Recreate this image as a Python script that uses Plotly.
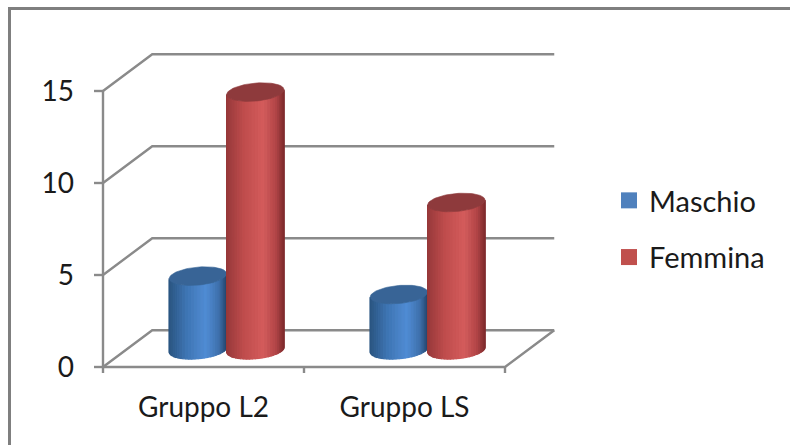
import numpy as np
import plotly.graph_objects as go

# ---- data ----
categories = ["Gruppo L2", "Gruppo LS"]
series_names = ["Maschio", "Femmina"]
maschio = [4, 3]
femmina = [14, 8]
y_ticks = [0, 5, 10, 15]

# ---- geometry of the pseudo-3D box (data units) ----
DX, DY = 0.245, 2.0          # depth offset of the back wall
DEPTH_F = 0.47               # cylinders sit mid-depth
BAR_W = 1 / 3.5              # gap width 150%
ELL_B = 0.49                 # vertical half-axis of the cylinder ellipses
TILT = 0.13

GRID = "#8a8a8a"
FONT = dict(family="Lato, Open Sans, sans-serif", size=28, color="#1a1a1a")

# pixel layout of the plotting area
L, R, T, B = 93, 566, 46, 375
KX, KY = 201.0, 18.4          # px per data unit
PX0, PY0 = 103, 367           # pixel position of (0, 0)
x_range = [(L - PX0) / KX, (R - PX0) / KX]
y_range = [-(B - PY0) / KY, (PY0 - T) / KY]

fig = go.Figure()


def line(xs, ys, width=2.4, color=GRID):
    fig.add_trace(go.Scatter(x=xs, y=ys, mode="lines",
                             line=dict(color=color, width=width),
                             hoverinfo="skip", showlegend=False))


ncat = len(categories)
# back wall gridlines with their left diagonal
for v in y_ticks:
    line([0, DX, ncat + DX], [v, v + DY, v + DY])
# floor outline
line([0, ncat, ncat + DX], [0, 0, DY])
# front value axis and its ticks
line([0, 0], [0, y_ticks[-1]])
for v in y_ticks:
    line([-9 / KX, 0], [v, v])
# category axis ticks at category boundaries
for i in range(ncat + 1):
    line([i, i], [0, -6 / KY])


def mix(stops, u):
    us = [s[0] for s in stops]
    cols = np.array([s[1] for s in stops], dtype=float)
    c = [np.interp(u, us, cols[:, k]) for k in range(3)]
    return "rgb(%d,%d,%d)" % tuple(int(round(x)) for x in c)


BLUE = [(-1, (42, 84, 128)), (-0.4, (62, 116, 178)), (0.3, (80, 140, 212)),
        (0.75, (62, 112, 172)), (1, (38, 72, 112))]
RED = [(-1, (150, 56, 58)), (-0.4, (190, 76, 76)), (0.3, (212, 92, 92)),
       (0.75, (176, 68, 70)), (1, (128, 44, 46))]
TOPS = ["rgb(56,100,150)", "rgb(142,58,60)"]


def cylinder(cx, base, top, shade, top_col):
    a = BAR_W / 2
    n = 28
    ts = np.linspace(np.pi, 2 * np.pi, n + 1)
    for t1, t2 in zip(ts[:-1], ts[1:]):
        x1, x2 = cx + a * np.cos(t1), cx + a * np.cos(t2)
        o1 = ELL_B * np.sin(t1) + TILT * np.cos(t1)
        o2 = ELL_B * np.sin(t2) + TILT * np.cos(t2)
        col = mix(shade, np.cos((t1 + t2) / 2))
        fig.add_trace(go.Scatter(
            x=[x1, x2, x2, x1, x1],
            y=[base + o1, base + o2, top + o2, top + o1, base + o1],
            mode="lines", fill="toself", fillcolor=col,
            line=dict(color=col, width=1.3),
            hoverinfo="skip", showlegend=False))
    tt = np.linspace(0, 2 * np.pi, 80)
    fig.add_trace(go.Scatter(
        x=cx + a * np.cos(tt),
        y=top + ELL_B * np.sin(tt) + TILT * np.cos(tt),
        mode="lines", fill="toself", fillcolor=top_col,
        line=dict(color=top_col, width=0.6),
        hoverinfo="skip", showlegend=False))


values = [maschio, femmina]
shades = [BLUE, RED]
for ci in range(ncat):
    for si in range(len(series_names)):
        cx = ci + 0.5 + (si - 0.5) * BAR_W + DEPTH_F * DX
        base = DEPTH_F * DY
        cylinder(cx, base, values[si][ci] + base, shades[si], TOPS[si])

# legend entries
legend_cols = ["#4f81bd", "#c0504d"]
for si, name in enumerate(series_names):
    fig.add_trace(go.Scatter(x=[None], y=[None], mode="markers", name=name,
                             legendgroup=name,
                             marker=dict(symbol="square", size=16,
                                         color=legend_cols[si])))

W, H = R - L, B - T


def px(xp):
    return (xp - L) / W


def py(yp):
    return (B - yp) / H


fig.update_layout(
    width=790, height=445,
    margin=dict(l=L, r=790 - R, t=T, b=445 - B),
    paper_bgcolor="white", plot_bgcolor="white",
    font=FONT,
    showlegend=True,
    legend=dict(x=px(609), y=py(229), xanchor="left", yanchor="middle",
                font=dict(family=FONT["family"], size=29, color="#1a1a1a"),
                tracegroupgap=16, itemwidth=30, bgcolor="rgba(0,0,0,0)"),
    xaxis=dict(range=x_range, showgrid=False, zeroline=False, showline=False,
               tickmode="array", tickvals=[i + 0.5 for i in range(ncat)],
               ticktext=categories, ticks="", ticklabelstandoff=13,
               fixedrange=True),
    yaxis=dict(range=y_range, showgrid=False, zeroline=False, showline=False,
               tickmode="array", tickvals=y_ticks,
               ticktext=[str(v) for v in y_ticks], ticks="",
               ticklabelstandoff=18, fixedrange=True),
    shapes=[dict(type="rect", xref="paper", yref="paper",
                 x0=px(9.5), x1=px(830), y0=py(480), y1=py(8.5),
                 line=dict(color="#7f7f7f", width=3), fillcolor="rgba(0,0,0,0)",
                 layer="below")],
)

fig.write_html("out.html")
